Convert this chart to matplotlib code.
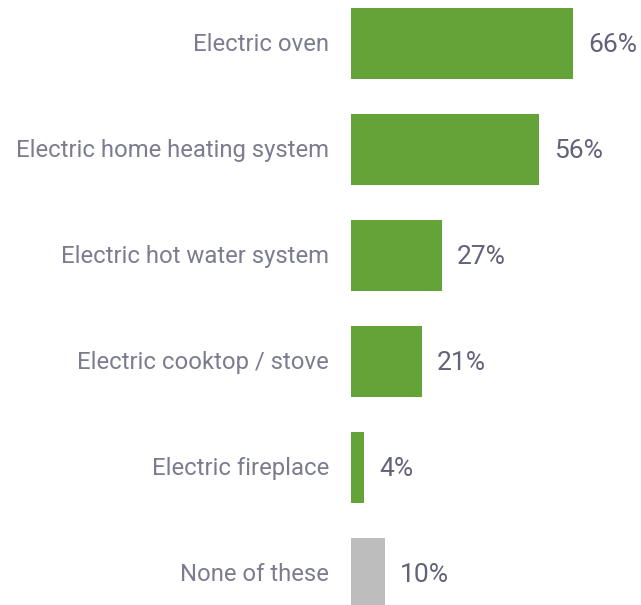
import matplotlib.pyplot as plt

categories = ["Electric oven", "Electric home heating system", "Electric hot water system",
              "Electric cooktop / stove", "Electric fireplace", "None of these"]
values = [66, 56, 27, 21, 4, 10]
colors = ["#63a337"] * 5 + ["#bdbdbd"]

plt.rcParams['font.family'] = ['Roboto', 'DejaVu Sans']

fig = plt.figure(figsize=(6.41, 6.05), dpi=100)
ax = fig.add_axes([351 / 641, 0, 290 / 641, 1])

y = list(range(len(categories)))
ax.barh(y, values, height=0.67, color=colors)

for yi, v, name in zip(y, values, categories):
    ax.annotate(f"{v}%", (v, yi), xytext=(11, -1), textcoords='offset points',
                va='center', ha='left', fontsize=19, color='#62627a')
    ax.annotate(name, (0, yi), xytext=(-16, -1), textcoords='offset points',
                va='center', ha='right', fontsize=17.2, color='#7c7c90')

ax.set_xlim(0, 290 / 3.36)
ax.set_ylim(5.297, -0.41)
ax.axis('off')

fig.savefig('out.png', dpi=100)
